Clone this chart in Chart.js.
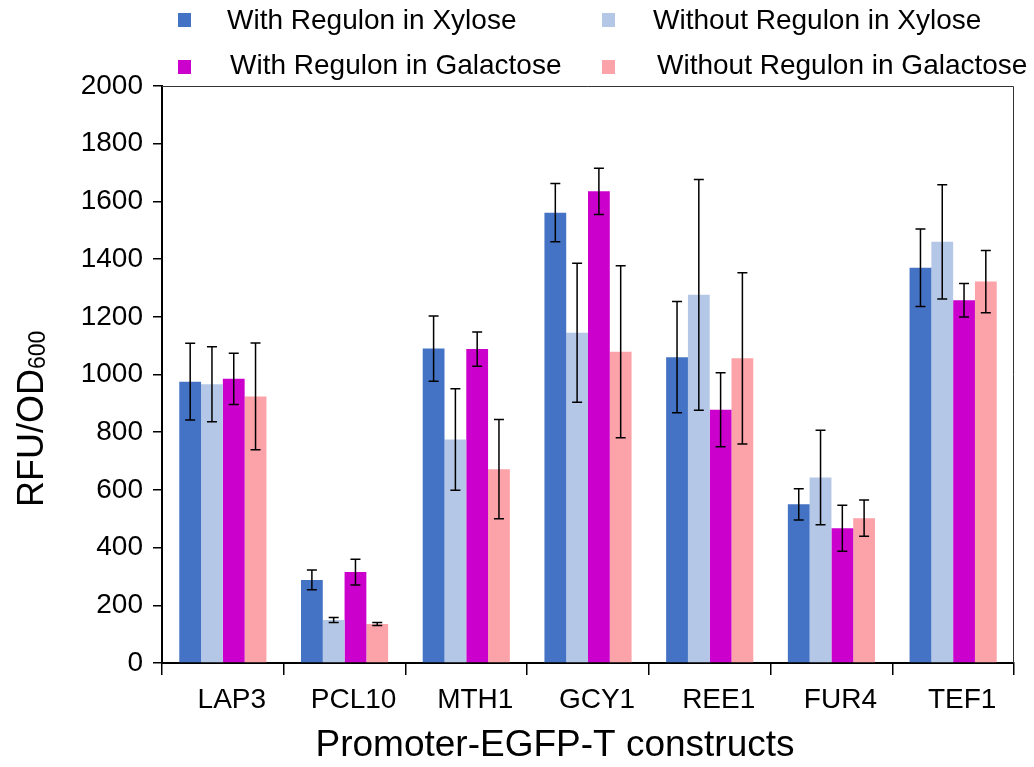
<!DOCTYPE html>
<html>
<head>
<meta charset="utf-8">
<script src="https://cdn.jsdelivr.net/npm/chart.js@4"></script>
<style>
  body { margin: 0; background: #fff; }
  #wrap { width: 1034px; height: 767px; position: relative; }
</style>
</head>
<body>
<div id="wrap"><canvas id="regulonChart"></canvas></div>
<script>
// data
const categories = ['LAP3', 'PCL10', 'MTH1', 'GCY1', 'REE1', 'FUR4', 'TEF1'];
const seriesNames = ['With Regulon in Xylose', 'Without Regulon in Xylose', 'With Regulon in Galactose', 'Without Regulon in Galactose'];
const seriesColors = ['#4472C4', '#B4C7E7', '#CC00CC', '#FBA3A9'];

const withXylose = [975, 288, 1090, 1561, 1060, 550, 1370];
const withXyloseErr = [133, 34, 113, 101, 193, 54, 134];
const withoutXylose = [966, 149, 775, 1145, 1276, 643, 1460];
const withoutXyloseErr = [130, 9, 176, 241, 400, 164, 198];
const withGalactose = [985, 315, 1088, 1635, 878, 467, 1257];
const withGalactoseErr = [89, 45, 59, 80, 128, 80, 58];
const withoutGalactose = [924, 135, 672, 1079, 1056, 502, 1322];
const withoutGalactoseErr = [185, 5, 172, 298, 297, 63, 108];

const yMin = 0;
const yMax = 2000;
const yStep = 200;

const FONT = '"Liberation Sans", Arial, sans-serif';

const values = [withXylose, withoutXylose, withGalactose, withoutGalactose];
const errors = [withXyloseErr, withoutXyloseErr, withGalactoseErr, withoutGalactoseErr];

// error bars, drawn through the y scale
const errorBars = {
    id: 'errorBars',
    afterDatasetsDraw(chart) {
        const ctx = chart.ctx;
        const y = chart.scales.y;
        ctx.save();
        ctx.strokeStyle = '#000';
        ctx.lineWidth = 1.5;
        chart.data.datasets.forEach((ds, i) => {
            const meta = chart.getDatasetMeta(i);
            meta.data.forEach((bar, j) => {
                const err = ds.errors[j];
                const v = ds.data[j];
                const top = y.getPixelForValue(v + err);
                const bot = y.getPixelForValue(v - err);
                ctx.beginPath();
                ctx.moveTo(bar.x, top); ctx.lineTo(bar.x, bot);
                ctx.moveTo(bar.x - 5, top); ctx.lineTo(bar.x + 5, top);
                ctx.moveTo(bar.x - 5, bot); ctx.lineTo(bar.x + 5, bot);
                ctx.stroke();
            });
        });
        ctx.restore();
    }
};

// frame, titles and the two-row legend
const decorations = {
    id: 'decorations',
    afterDraw(chart) {
        const ctx = chart.ctx;
        const a = chart.chartArea;
        ctx.save();
        ctx.strokeStyle = '#333';
        ctx.lineWidth = 1;
        ctx.beginPath();
        ctx.moveTo(a.left, a.top + 0.5);
        ctx.lineTo(a.right - 0.5, a.top + 0.5);
        ctx.lineTo(a.right - 0.5, a.bottom);
        ctx.stroke();

        ctx.fillStyle = '#000';
        // x title
        ctx.font = '37px ' + FONT;
        ctx.textAlign = 'center';
        ctx.textBaseline = 'middle';
        ctx.fillText('Promoter-EGFP-T constructs', 555, 746);

        // y title with subscript
        ctx.save();
        ctx.translate(43, 507);
        ctx.rotate(-Math.PI / 2);
        ctx.textAlign = 'left';
        ctx.textBaseline = 'alphabetic';
        ctx.font = '36px ' + FONT;
        ctx.fillText('RFU/OD', 0, 0);
        const w = ctx.measureText('RFU/OD').width;
        ctx.font = '23px ' + FONT;
        ctx.fillText('600', w, 2);
        ctx.restore();

        // legend
        const spots = [[178, 13, 227, 21], [602, 13, 653, 21], [178, 60, 230, 66], [602, 60, 657, 66]];
        ctx.font = '28px ' + FONT;
        ctx.textAlign = 'left';
        ctx.textBaseline = 'middle';
        seriesNames.forEach((name, i) => {
            const s = spots[i];
            ctx.fillStyle = seriesColors[i];
            ctx.fillRect(s[0], s[1], 13, 14);
            ctx.fillStyle = '#000';
            ctx.fillText(name, s[2], s[3]);
        });
        ctx.restore();
    }
};

function initializeRegulonChart() {
    const ctx = document.getElementById('regulonChart').getContext('2d');
    new Chart(ctx, {
        type: 'bar',
        data: {
            labels: categories,
            datasets: seriesNames.map((name, i) => ({
                label: name,
                data: values[i],
                errors: errors[i],
                backgroundColor: seriesColors[i],
                categoryPercentage: 0.716,
                barPercentage: 1.0
            }))
        },
        options: {
            responsive: true,
            maintainAspectRatio: false,
            animation: false,
            layout: { padding: { top: 86, right: 20, left: 0, bottom: 0 } },
            plugins: {
                legend: { display: false },
                tooltip: { enabled: false }
            },
            scales: {
                x: {
                    afterFit: scale => { scale.height = 104; },
                    grid: { drawOnChartArea: false, tickLength: 12, color: '#000', lineWidth: 1.5 },
                    border: { color: '#000', width: 2 },
                    ticks: {
                        color: '#000',
                        font: { family: FONT, size: 28 },
                        padding: 8,
                        labelOffset: 9,
                        maxRotation: 0
                    }
                },
                y: {
                    min: yMin,
                    max: yMax,
                    afterFit: scale => { scale.width = 162; },
                    grid: { drawOnChartArea: false, tickLength: 9, color: '#000', lineWidth: 1.5 },
                    border: { color: '#000', width: 2 },
                    ticks: {
                        stepSize: yStep,
                        color: '#000',
                        font: { family: FONT, size: 28 },
                        padding: 10,
                        callback: value => String(value)
                    }
                }
            }
        },
        plugins: [errorBars, decorations]
    });
}

document.addEventListener('DOMContentLoaded', initializeRegulonChart);
</script>
</body>
</html>
